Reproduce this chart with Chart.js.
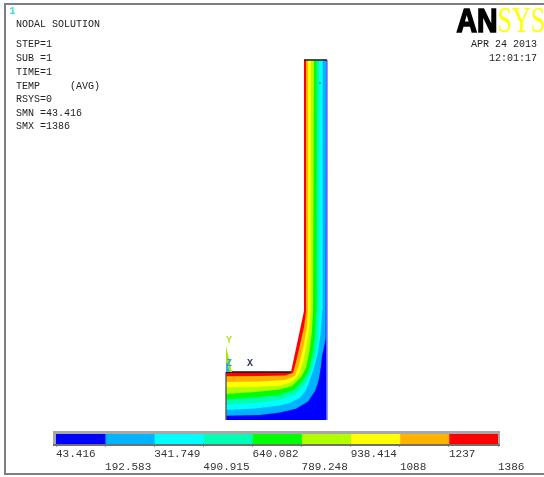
<!DOCTYPE html>
<html>
<head>
<meta charset="utf-8">
<title>ANSYS nodal solution</title>
<script src="https://cdn.jsdelivr.net/npm/chart.js@4/dist/chart.umd.js"></script>
<style>
html,body{margin:0;padding:0;background:#fff;overflow:hidden}
#wrap{position:relative;width:544px;height:477px;background:#fff}
#frame{position:absolute;left:4px;top:3px;width:540px;height:472px;box-sizing:border-box;border:solid #7f7f7f;border-width:2px 0 2px 2px}
canvas{position:absolute;left:0;top:0}
</style>
</head>
<body>
<div id="wrap">
<div id="frame"></div>
<canvas id="model" width="544" height="477"></canvas>
<canvas id="bar" width="544" height="477"></canvas>
</div>
<script>
// contour band colours, coldest to hottest
const bandColors = ['#0000ff','#00b2ff','#00ffff','#00ffb2','#00ff00','#b2ff00','#ffff00','#ffb200','#ff0000'];
// contour levels
const levels = [43.416,192.583,341.749,490.915,640.082,789.248,938.414,1088,1237,1386];
const levelLabels = ['43.416','192.583','341.749','490.915','640.082','789.248','938.414','1088','1237','1386'];

// part outline, model coordinates [x,y]
const partOutline = [[0,48],[65,48],[78,109],[78,360],[101,360]];
// contours between bands, each runs from the left edge up to the top edge
const contourBlue   = [[0,4.3],[34,5],[54,7.5],[70,11.3],[82,18.5],[89,29],[92.5,39],[94.7,52],[96,64],[98,73],[99.7,82],[100,360],[101,360]];
const contourLtBlue = [[0,10],[29,11.5],[54,14.5],[64,17],[74,22.3],[80,30],[84,40],[88,52],[92,68],[94.5,85],[96.3,110],[96.7,360],[101,360]];
const contourCyan   = [[0,15],[29,17],[54,20],[70,26],[79,36],[83.5,45],[86.5,52],[90,66],[92,82],[93,105],[93.3,360],[101,360]];
const contourTeal   = [[0,20.5],[29,22.5],[54,25],[68,30],[76,38],[81,46],[83.5,52],[87,68],[89,84],[90,108],[90.7,360],[101,360]];
const contourGreen  = [[0,26],[29,28],[54,30.5],[66,34],[75,43],[80,52],[84,72],[86,90],[87,110],[88,360],[101,360]];
const contourLime   = [[0,32.7],[29,33],[54,34.5],[66,38],[73,46],[77,58],[80,73],[83,90],[84.5,110],[85,360],[101,360]];
const contourYellow = [[0,38],[34,38.5],[59,40],[69,44],[73,55],[77,72],[80.5,90],[82,110],[82,360],[101,360]];
const contourOrange = [[0,43.7],[34,44],[59,44.5],[67,47],[70,58],[74,75],[78,93],[80,108],[80,360],[101,360]];

// drawn edges
const edgeTop = [[0,48],[65,48]];
const edgeLeft = [[0,0],[0,48]];
const edgeCap = [[78,360],[101,360]];
const edgeRight = [[101,0],[101,360]];
const triadWedge = [[0,48],[0,74],[6,48]];
const triadBase = [[0,48],[0,58],[4,48]];
const maxMarker = [[94,337]];

// annotation texts
const infoLines = [['NODAL SOLUTION',24],['STEP=1',44],['SUB =1',58],['TIME=1',72],['TEMP     (AVG)',86],['RSYS=0',99],['SMN =43.416',113],['SMX =1386',126]];
const dateLines = [['APR 24 2013',44],['12:01:17',58]];

function line(points,color,extra){
  return Object.assign({
    data:points.map(p=>({x:p[0],y:p[1]})),
    borderColor:color,borderWidth:0,backgroundColor:color,
    pointRadius:0,tension:0,fill:false,clip:false
  },extra||{});
}
const ordered = [contourBlue,contourLtBlue,contourCyan,contourTeal,contourGreen,contourLime,contourYellow,contourOrange,partOutline];
const modelSets = ordered.map((c,i)=>line(c,bandColors[i],{fill:{value:0},order:10+i}));
modelSets.push(line(edgeTop,'#111111',{borderWidth:1.6,order:3}));
modelSets.push(line(edgeLeft,'#555555',{borderWidth:1.4,order:3}));
modelSets.push(line(edgeCap,'#222222',{borderWidth:1.6,order:3}));
modelSets.push(line(edgeRight,'#7d7dff',{borderWidth:1.6,order:4}));
modelSets.push(line(triadWedge,'#a8e800',{fill:{value:48},order:2}));
modelSets.push(line(triadBase,'#30b0e8',{fill:{value:48},order:1}));
modelSets.push(line(maxMarker,'#0a8a8a',{pointRadius:1,order:0,showLine:false}));

const textPlugin = {
  id:'texts',
  afterDraw(chart){
    const c = chart.ctx;
    c.save();
    c.textBaseline='middle';
    c.font='10px "Liberation Mono"';
    c.fillStyle='#222222';
    c.textAlign='left';
    infoLines.forEach(l=>c.fillText(l[0],16,l[1]));
    c.textAlign='right';
    dateLines.forEach(l=>c.fillText(l[0],537,l[1]));
    c.textAlign='left';
    c.fillStyle='#35dcdc';
    c.font='bold 10px "Liberation Mono"';
    c.fillText('1',9.5,11.5);
    c.fillStyle='#b4e030';
    c.fillText('Y',226,340);
    c.fillStyle='#30a0e0';
    c.fillText('Z',226,363);
    c.fillStyle='#303a60';
    c.fillText('X',247,363);
    // logo
    c.textBaseline='alphabetic';
    c.fillStyle='#000000';
    c.strokeStyle='#000000';
    c.lineWidth=1.6;
    c.save();
    c.translate(456.5,32);
    c.scale(0.86,1);
    c.font='bold 33px "Liberation Sans"';
    c.fillText('AN',0,0);
    c.strokeText('AN',0,0);
    c.restore();
    c.fillStyle='#ffff00';
    c.save();
    c.translate(497.5,32);
    c.scale(0.72,1);
    c.font='36px "Liberation Serif"';
    c.fillText('SYS',0,0);
    c.restore();
    c.restore();
  }
};

new Chart(document.getElementById('model'),{
  type:'line',
  data:{datasets:modelSets},
  plugins:[textPlugin],
  options:{
    responsive:false,animation:false,devicePixelRatio:1,
    layout:{padding:0,autoPadding:false},
    plugins:{legend:{display:false},title:{display:false},tooltip:{enabled:false}},
    scales:{
      x:{type:'linear',display:false,min:-226,max:318},
      y:{type:'linear',display:false,min:-57,max:420}
    }
  }
});

const framePlugin = {
  id:'barFrame',
  beforeDatasetsDraw(chart){
    const a=chart.chartArea,c=chart.ctx;
    c.save();
    c.fillStyle='#a8a8a8';
    c.fillRect(a.left-3,a.top-3,a.right-a.left+5,3);
    c.fillRect(a.left-3,a.top,3,a.bottom-a.top);
    c.fillRect(a.right,a.top,2,a.bottom-a.top);
    c.fillStyle='#707070';
    c.fillRect(a.left-3,a.bottom,a.right-a.left+5,2);
    c.restore();
  }
};

new Chart(document.getElementById('bar'),{
  type:'bar',
  data:{
    labels:['TEMP'],
    datasets:bandColors.map((col,i)=>({
      data:[[levels[i],levels[i+1]]],
      backgroundColor:col,borderWidth:0,
      barPercentage:1,categoryPercentage:1,grouped:false
    }))
  },
  plugins:[framePlugin],
  options:{
    indexAxis:'y',
    responsive:false,animation:false,devicePixelRatio:1,
    layout:{padding:{left:56,right:46,top:434,bottom:3},autoPadding:false},
    plugins:{legend:{display:false},title:{display:false},tooltip:{enabled:false}},
    scales:{
      y:{display:false},
      x:{
        type:'linear',min:levels[0],max:levels[levels.length-1],
        border:{display:false},
        grid:{display:true,drawOnChartArea:false,drawTicks:true,tickLength:3,color:'#999999',tickWidth:1},
        afterBuildTicks(ax){ax.ticks=levels.map(v=>({value:v}));},
        afterFit(ax){ax.height=30;},
        ticks:{
          autoSkip:false,maxRotation:0,minRotation:0,align:'start',padding:1,
          color:'#333333',
          font:{family:'"Liberation Mono"',size:11,lineHeight:1.15},
          callback(v,i){return i%2===0?[levelLabels[i],' ']:[' ',levelLabels[i]];}
        }
      }
    }
  }
});
</script>
</body>
</html>
